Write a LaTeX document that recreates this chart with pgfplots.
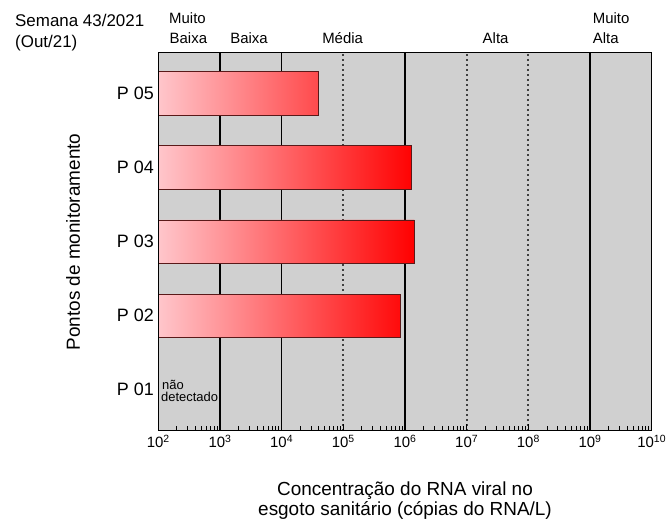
\documentclass[border=0pt]{standalone}
\usepackage{fontspec}
\setmainfont{Liberation Sans}
\usepackage{pgfplots}
\pgfplotsset{compat=1.18}
\definecolor{bggray}{RGB}{208,208,208}
\definecolor{barpink}{RGB}{255,198,203}
\definecolor{barred}{RGB}{255,0,0}
\definecolor{baredge}{RGB}{90,25,25}
\begin{document}
\begin{tikzpicture}
\path[use as bounding box] (0bp,0bp) rectangle (669bp,520bp);
\begin{axis}[
  at={(158.3bp,89.3bp)}, anchor=south west,
  scale only axis, width=493.4bp, height=378.4bp,
  xmode=log, log basis x=10, log origin x=infty,
  xmin=1e2, xmax=1e10, ymin=0.448, ymax=5.555,
  xtick={1e2,1e3,1e4,1e5,1e6,1e7,1e8,1e9,1e10},
  xticklabels={10\textsuperscript{2},10\textsuperscript{3},10\textsuperscript{4},10\textsuperscript{5},10\textsuperscript{6},10\textsuperscript{7},10\textsuperscript{8},10\textsuperscript{9},10\textsuperscript{10}},
  minor xtick={200,300,400,500,600,700,800,900,
    2000,3000,4000,5000,6000,7000,8000,9000,
    2e4,3e4,4e4,5e4,6e4,7e4,8e4,9e4,
    2e5,3e5,4e5,5e5,6e5,7e5,8e5,9e5,
    2e6,3e6,4e6,5e6,6e6,7e6,8e6,9e6,
    2e7,3e7,4e7,5e7,6e7,7e7,8e7,9e7,
    2e8,3e8,4e8,5e8,6e8,7e8,8e8,9e8,
    2e9,3e9,4e9,5e9,6e9,7e9,8e9,9e9},
  ytick={1,2,3,4,5},
  yticklabels={P 01,P 02,P 03,P 04,P 05},
  xtick pos=left, tick align=inside,
  major tick length=7bp, minor tick length=4.5bp,
  x tick style={black, line width=1bp},
  minor x tick style={black, line width=0.8bp},
  y tick style={draw=none},
  xticklabel style={font=\fontsize{15}{17}\selectfont, yshift=-1bp},
  yticklabel style={font=\fontsize{18}{20}\selectfont, xshift=-1bp},
  axis background/.style={fill=bggray},
  axis line style={line width=1.3bp, black},
  axis on top,
  clip=true,
]
\addplot[black, line width=1.3bp] coordinates {(1e3,0.448) (1e3,5.555)};
\addplot[black, line width=1.3bp] coordinates {(1e4,0.448) (1e4,5.555)};
\addplot[black, line width=1.3bp] coordinates {(1e6,0.448) (1e6,5.555)};
\addplot[black, line width=1.3bp] coordinates {(1e9,0.448) (1e9,5.555)};
\addplot[black!75, line width=1.8bp, dash pattern=on 1.8bp off 3.2bp] coordinates {(1e5,0.448) (1e5,5.555)};
\addplot[black!75, line width=1.8bp, dash pattern=on 1.8bp off 3.2bp] coordinates {(1e7,0.448) (1e7,5.555)};
\addplot[black!75, line width=1.8bp, dash pattern=on 1.8bp off 3.2bp] coordinates {(1e8,0.448) (1e8,5.555)};
\addplot[xbar, bar width=0.584, draw=baredge, line width=0.9bp,
  left color=barpink, right color=barred]
  coordinates {(8.39e5,2) (1.42e6,3) (1.28e6,4) (3.93e4,5)};
\end{axis}
% header texts
\node[anchor=base west, inner sep=0pt, font=\fontsize{17}{19}\selectfont] at (15bp,493.3bp) {Semana 43/2021};
\node[anchor=base west, inner sep=0pt, font=\fontsize{17}{19}\selectfont] at (15bp,472.5bp) {(Out/21)};
\node[anchor=base west, inner sep=0pt, font=\fontsize{15}{17}\selectfont] at (169bp,496bp) {Muito};
\node[anchor=base west, inner sep=0pt, font=\fontsize{15}{17}\selectfont] at (169.5bp,476bp) {Baixa};
\node[anchor=base, inner sep=0pt, font=\fontsize{15}{17}\selectfont] at (249bp,476bp) {Baixa};
\node[anchor=base, inner sep=0pt, font=\fontsize{15}{17}\selectfont] at (342.6bp,476bp) {Média};
\node[anchor=base, inner sep=0pt, font=\fontsize{15}{17}\selectfont] at (495.6bp,476bp) {Alta};
\node[anchor=base west, inner sep=0pt, font=\fontsize{15}{17}\selectfont] at (592.7bp,496bp) {Muito};
\node[anchor=base west, inner sep=0pt, font=\fontsize{15}{17}\selectfont] at (592.7bp,476bp) {Alta};
% axis titles
\node[rotate=90, anchor=center, inner sep=0pt, font=\fontsize{19}{21}\selectfont] at (73bp,278bp) {Pontos de monitoramento};
\node[anchor=base, inner sep=0pt, font=\fontsize{19}{21}\selectfont] at (405bp,25bp) {Concentração do RNA viral no};
\node[anchor=base, inner sep=0pt, font=\fontsize{19}{21}\selectfont] at (405bp,5bp) {esgoto sanitário (cópias do RNA/L)};
% nao detectado
\node[anchor=base west, inner sep=0pt, font=\fontsize{13}{14}\selectfont] at (162bp,130bp) {não};
\node[anchor=base west, inner sep=0pt, font=\fontsize{13}{14}\selectfont] at (161bp,118.5bp) {detectado};
\end{tikzpicture}
\end{document}
